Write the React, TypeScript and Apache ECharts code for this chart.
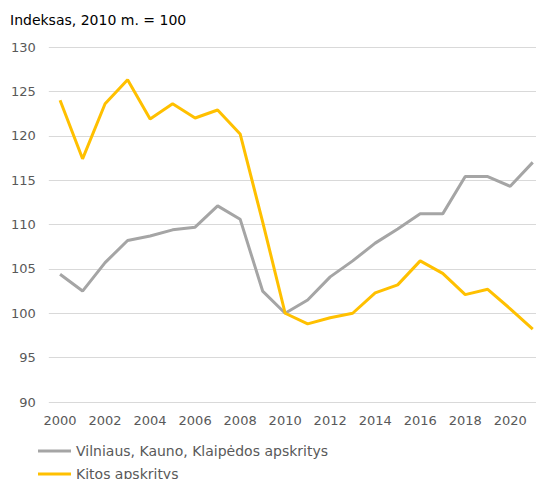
import React, { useEffect, useRef } from "react";
import * as echarts from "echarts";

const years = ["2000","2001","2002","2003","2004","2005","2006","2007","2008","2009","2010","2011","2012","2013","2014","2015","2016","2017","2018","2019","2020","2021"];
const bigCounties = [104.4,102.5,105.7,108.2,108.7,109.4,109.7,112.1,110.6,102.5,100.0,101.5,104.1,105.9,107.9,109.5,111.2,111.2,115.4,115.4,114.3,117.0];
const otherCounties = [124.0,117.4,123.6,126.3,121.9,123.6,122.0,122.9,120.2,110.3,100.0,98.8,99.5,100.0,102.3,103.2,105.9,104.5,102.1,102.7,100.5,98.2];
const seriesNames = ["Vilniaus, Kauno, Klaipėdos apskritys", "Kitos apskritys"];
const titleText = "Indeksas, 2010 m. = 100";

const FONT = "DejaVu Sans";

const legendBase = {
  orient: "horizontal",
  left: 25,
  itemWidth: 33,
  itemHeight: 3,
  itemGap: 0,
  icon: "rect",
  textStyle: { fontFamily: FONT, fontSize: 14, color: "#595959", lineHeight: 14 },
};

export default function App() {
  const ref = useRef<HTMLDivElement>(null);
  useEffect(() => {
    const chart = echarts.init(ref.current!, null, { renderer: "svg" });
    chart.setOption({
      animation: false,
      title: {
        text: titleText,
        left: 2,
        top: 5,
        padding: 0,
        textStyle: { fontFamily: FONT, fontSize: 14, fontWeight: "normal", color: "#000000" },
      },
      grid: { left: 38, right: -3, top: 39, bottom: 77, containLabel: false },
      legend: [
        { ...legendBase, top: 431, data: [seriesNames[0]] },
        { ...legendBase, top: 454, data: [seriesNames[1]] },
      ],
      xAxis: {
        type: "category",
        data: years,
        boundaryGap: true,
        axisLine: { show: false },
        axisTick: { show: false },
        axisLabel: {
          interval: 1,
          fontFamily: FONT,
          fontSize: 13,
          color: "#595959",
          margin: 12,
        },
      },
      yAxis: {
        type: "value",
        min: 90,
        max: 130,
        interval: 5,
        axisLine: { show: false },
        axisTick: { show: false },
        splitLine: { lineStyle: { color: "#d9d9d9", width: 1 } },
        axisLabel: { fontFamily: FONT, fontSize: 13, color: "#595959", margin: 13 },
      },
      series: [
        {
          name: seriesNames[0],
          type: "line",
          data: bigCounties,
          symbol: "none",
          lineStyle: { color: "#a5a5a5", width: 3 },
          itemStyle: { color: "#a5a5a5" },
        },
        {
          name: seriesNames[1],
          type: "line",
          data: otherCounties,
          symbol: "none",
          lineStyle: { color: "#ffc000", width: 3 },
          itemStyle: { color: "#ffc000" },
        },
      ],
    });
    return () => chart.dispose();
  }, []);
  return <div ref={ref} style={{ width: 536, height: 471 }} />;
}
